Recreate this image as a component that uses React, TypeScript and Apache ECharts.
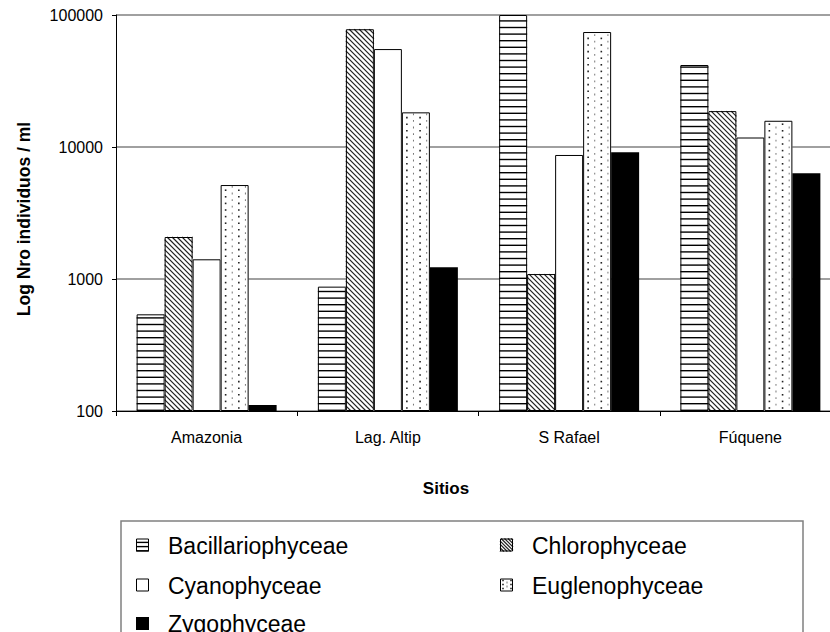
import React, { useEffect, useRef } from "react";
import * as echarts from "echarts";

// Sampling sites (categories) and y-axis ticks
const SITES = ["Amazonia", "Lag. Altip", "S Rafael", "Fúquene"];
const Y_TICKS = [100, 1000, 10000, 100000];

// Individuals per ml, one value per site
const BACILLARIOPHYCEAE = [540, 875, 100000, 41800];
const CHLOROPHYCEAE = [2080, 78000, 1090, 18700];
const CYANOPHYCEAE = [1410, 55200, 8700, 11800];
const EUGLENOPHYCEAE = [5150, 18300, 74300, 15800];
const ZYGOPHYCEAE = [111, 1230, 9120, 6320];

const CLASS_NAMES = ["Bacillariophyceae", "Chlorophyceae", "Cyanophyceae", "Euglenophyceae", "Zygophyceae"];
const CLASS_VALUES = [BACILLARIOPHYCEAE, CHLOROPHYCEAE, CYANOPHYCEAE, EUGLENOPHYCEAE, ZYGOPHYCEAE];

type Pattern = "hstripe" | "diag" | "plain" | "dots" | "solid";
const CLASS_PATTERNS: Pattern[] = ["hstripe", "diag", "plain", "dots", "solid"];

const FONT = '"Liberation Sans", Arial, Helvetica, sans-serif';
const BAR_FRACTION = 28 / 181.25;

// Builds the filled, hatched and outlined shapes of one bar (or legend swatch)
function patternShapes(pattern: Pattern, x0: number, yT: number, w: number, h: number, period: number, dotOffset: number): any[] {
  const x1 = x0 + w;
  const yB = yT + h;
  const out: any[] = [];
  out.push({
    type: "rect",
    shape: { x: x0, y: yT, width: w, height: h },
    style: { fill: pattern === "solid" ? "#000" : "#fff" },
  });
  if (pattern === "hstripe") {
    for (let y = yB - 0.7; y > yT + 0.8; y -= period) {
      out.push({ type: "rect", shape: { x: x0, y: y - 0.7, width: w, height: 1.4 }, style: { fill: "#000" } });
    }
  } else if (pattern === "diag") {
    const s = period;
    const cStart = Math.ceil((x0 - yB) / s) * s;
    for (let c = cStart; c <= x1 - yT; c += s) {
      const xa = Math.max(x0, c + yT);
      const xb = Math.min(x1, c + yB);
      if (xb - xa > 0.4) {
        out.push({
          type: "line",
          shape: { x1: xa, y1: xa - c, x2: xb, y2: xb - c },
          style: { stroke: "#222", lineWidth: 1.2 },
        });
      }
    }
  } else if (pattern === "dots") {
    let j = 0;
    for (let x = x0 + dotOffset; x < x1 - 1; x += period, j++) {
      const dark = j % 2 === 0;
      const shift = dark ? 0 : period / 2;
      for (let y = yB - 3 - shift; y > yT + 1.5; y -= period) {
        out.push({
          type: "rect",
          shape: dark ? { x: x - 0.8, y: y - 0.8, width: 1.6, height: 1.6 } : { x: x - 0.5, y: y - 0.9, width: 1, height: 1.8 },
          style: { fill: dark ? "#222" : "#777" },
        });
      }
    }
  }
  if (pattern !== "solid") {
    out.push({
      type: "rect",
      shape: { x: x0 + 0.5, y: yT + 0.5, width: Math.max(w - 1, 0), height: Math.max(h - 1, 0) },
      style: { fill: "none", stroke: "#000", lineWidth: 1 },
    });
  }
  return out;
}

function makeRenderItem(k: number, pattern: Pattern) {
  return (params: any, api: any) => {
    const i = api.value(0);
    const v = api.value(1);
    const top = api.coord([i, v]);
    const base = api.coord([i, Y_TICKS[0]]);
    const band = params.coordSys.width / SITES.length;
    const barW = band * BAR_FRACTION;
    const x0 = top[0] - 2.5 * barW + k * barW;
    const yT = top[1];
    const h = base[1] - top[1];
    return {
      type: "group",
      children: patternShapes(pattern, x0, yT, barW, h, pattern === "diag" ? 5 : 6.6, 5),
    };
  };
}

function legendGraphics(): any[] {
  const els: any[] = [];
  els.push({
    type: "rect",
    shape: { x: 121, y: 521, width: 682, height: 140 },
    style: { fill: "#fff", stroke: "#808080", lineWidth: 1.5 },
  });
  // icon centre / text centre for each entry
  const slots = [
    { x: 136, icon: 545, text: 546 },
    { x: 500, icon: 545, text: 546 },
    { x: 136, icon: 585, text: 586 },
    { x: 500, icon: 585, text: 586 },
    { x: 136, icon: 623.5, text: 624 },
  ];
  CLASS_NAMES.forEach((name, k) => {
    const s = slots[k];
    const p = CLASS_PATTERNS[k];
    const period = p === "diag" ? 3.4 : p === "hstripe" ? 4.2 : 4;
    els.push({
      type: "group",
      children: patternShapes(p, s.x, s.icon - 6.5, 13, 13, period, 3),
    });
    els.push({
      type: "text",
      x: s.x + 32,
      y: s.text,
      style: {
        text: name,
        fill: "#000",
        font: `23px ${FONT}`,
        textAlign: "left",
        textVerticalAlign: "middle",
      },
    });
  });
  return els;
}

export default function App() {
  const ref = useRef<HTMLDivElement>(null);

  useEffect(() => {
    if (!ref.current) return;
    const chart = echarts.init(ref.current, null, { renderer: "svg" });

    const series = CLASS_NAMES.map((name, k) => ({
      type: "custom",
      name,
      data: CLASS_VALUES[k].map((v, i) => [i, v]),
      encode: { x: 0, y: 1 },
      renderItem: makeRenderItem(k, CLASS_PATTERNS[k]),
      clip: true,
      z: 3,
    }));

    chart.setOption({
      animation: false,
      backgroundColor: "#fff",
      textStyle: { fontFamily: FONT },
      grid: { left: 116, top: 15, width: 725, height: 396, containLabel: false },
      xAxis: {
        type: "category",
        data: SITES,
        boundaryGap: true,
        axisLine: { show: true, lineStyle: { color: "#000", width: 1 } },
        axisTick: { show: true, alignWithLabel: false, inside: false, length: 5, lineStyle: { color: "#000" } },
        axisLabel: { fontSize: 16, color: "#000", margin: 18, fontFamily: FONT },
        splitLine: { show: false },
      },
      yAxis: {
        type: "log",
        logBase: 10,
        min: Y_TICKS[0],
        max: Y_TICKS[Y_TICKS.length - 1],
        axisLine: { show: true, lineStyle: { color: "#000", width: 1 } },
        axisTick: { show: true, inside: false, length: 4, lineStyle: { color: "#000" } },
        minorTick: { show: false },
        axisLabel: {
          fontSize: 16,
          color: "#000",
          margin: 13,
          fontFamily: FONT,
          formatter: (v: number) => String(Math.round(v)),
        },
        splitLine: { show: true, lineStyle: { color: "#808080", width: 1.5 } },
      },
      series,
      graphic: [
        {
          type: "text",
          x: 24,
          y: 219,
          rotation: Math.PI / 2,
          style: {
            text: "Log Nro individuos / ml",
            fill: "#000",
            font: `bold 17.5px ${FONT}`,
            textAlign: "center",
            textVerticalAlign: "middle",
          },
        },
        {
          type: "text",
          x: 446,
          y: 488,
          style: {
            text: "Sitios",
            fill: "#000",
            font: `bold 17px ${FONT}`,
            textAlign: "center",
            textVerticalAlign: "middle",
          },
        },
        ...legendGraphics(),
      ],
    });

    return () => chart.dispose();
  }, []);

  // The plot area runs past the right edge of the visible frame, so the chart
  // canvas is wider than the frame that clips it.
  return (
    <div
      style={{ position: "fixed", left: 0, top: 0, width: 830, height: 632, overflow: "hidden", background: "#fff" }}
    >
      <div ref={ref} style={{ width: 860, height: 632 }} />
    </div>
  );
}
